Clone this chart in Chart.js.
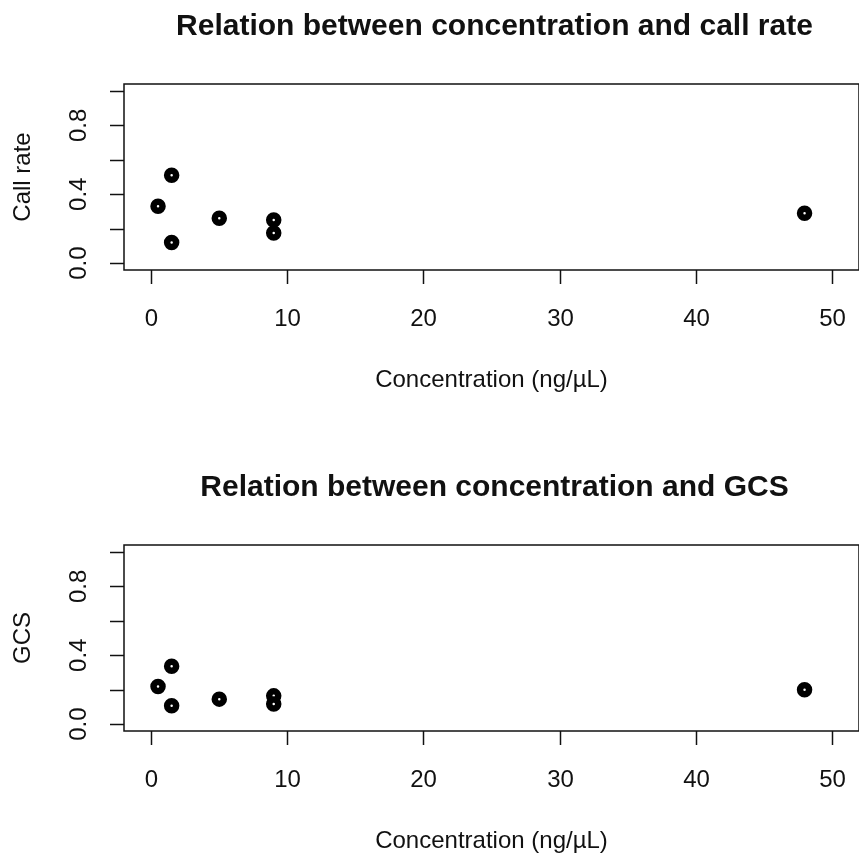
<!DOCTYPE html>
<html>
<head>
<meta charset="utf-8">
<script src="https://cdn.jsdelivr.net/npm/chart.js@4"></script>
<style>
  html, body { margin: 0; padding: 0; background: #fff; overflow: hidden; }
  .panel { position: absolute; left: 0; }
  #callRatePanel { top: 0; }
  #gcsPanel { top: 461px; }
</style>
</head>
<body>
<canvas id="callRatePanel" class="panel" width="870" height="461"></canvas>
<canvas id="gcsPanel" class="panel" width="870" height="461"></canvas>
<script>
// sample concentrations and the two quality measures
const concentration = [0.5, 1.5, 1.5, 5, 9, 9, 48];
const callRate = [0.33, 0.51, 0.12, 0.26, 0.25, 0.175, 0.29];
const gcs = [0.218, 0.336, 0.107, 0.145, 0.164, 0.117, 0.199];

const xTicks = [0, 10, 20, 30, 40, 50];
const yTicks = [0, 0.2, 0.4, 0.6, 0.8, 1.0];
const yTickLabels = [0, 0.4, 0.8];

const FONT = '"Liberation Sans", Arial, sans-serif';
const INK = '#111';

// base-graphics style axes: box, outward ticks, rotated y labels
const boxAxes = {
  id: 'boxAxes',
  afterDraw(chart, args, opts) {
    const { ctx, chartArea: a, scales: { x, y } } = chart;
    const tick = 14;
    ctx.save();
    ctx.strokeStyle = INK;
    ctx.lineWidth = 1.5;
    ctx.strokeRect(a.left, a.top, a.right - a.left, a.bottom - a.top);

    ctx.fillStyle = INK;
    ctx.font = '24px ' + FONT;
    ctx.textAlign = 'center';
    ctx.textBaseline = 'middle';

    xTicks.forEach(v => {
      const px = Math.round(x.getPixelForValue(v)) + 0.5;
      ctx.beginPath(); ctx.moveTo(px, a.bottom); ctx.lineTo(px, a.bottom + tick); ctx.stroke();
      ctx.fillText(String(v), px, a.bottom + 49);
    });

    yTicks.forEach(v => {
      const py = Math.round(y.getPixelForValue(v)) + 0.5;
      ctx.beginPath(); ctx.moveTo(a.left - tick, py); ctx.lineTo(a.left, py); ctx.stroke();
    });
    yTickLabels.forEach(v => {
      const py = y.getPixelForValue(v);
      ctx.save();
      ctx.translate(a.left - 45, py);
      ctx.rotate(-Math.PI / 2);
      ctx.fillText(v.toFixed(1), 0, 0);
      ctx.restore();
    });

    const cx = (a.left + a.right) / 2;
    ctx.fillText(opts.xTitle, cx, a.bottom + 110);
    ctx.save();
    ctx.translate(a.left - 101, (a.top + a.bottom) / 2);
    ctx.rotate(-Math.PI / 2);
    ctx.fillText(opts.yTitle, 0, 0);
    ctx.restore();
    ctx.restore();
  }
};

function makePanel(id, values, title, yTitle) {
  return new Chart(document.getElementById(id), {
    type: 'scatter',
    data: {
      datasets: [{
        data: concentration.map((c, i) => ({ x: c, y: values[i] })),
        pointRadius: 4.5,
        pointHoverRadius: 4.5,
        borderWidth: 6.5,
        borderColor: '#000',
        backgroundColor: '#fff'
      }]
    },
    options: {
      responsive: false,
      animation: false,
      layout: { padding: { left: 124, right: 5, top: 0, bottom: 191 } },
      scales: {
        x: { type: 'linear', min: -2, max: 52, display: false },
        y: { type: 'linear', min: -0.04, max: 1.04, display: false }
      },
      plugins: {
        legend: { display: false },
        tooltip: { enabled: false },
        title: {
          display: true,
          text: title,
          color: INK,
          font: { family: FONT, size: 30, weight: 'bold', lineHeight: 1.2 },
          padding: { top: 9, bottom: 39 }
        },
        boxAxes: { xTitle: 'Concentration (ng/µL)', yTitle }
      }
    },
    plugins: [boxAxes]
  });
}

makePanel('callRatePanel', callRate, 'Relation between concentration and call rate', 'Call rate');
makePanel('gcsPanel', gcs, 'Relation between concentration and GCS', 'GCS');
</script>
</body>
</html>
